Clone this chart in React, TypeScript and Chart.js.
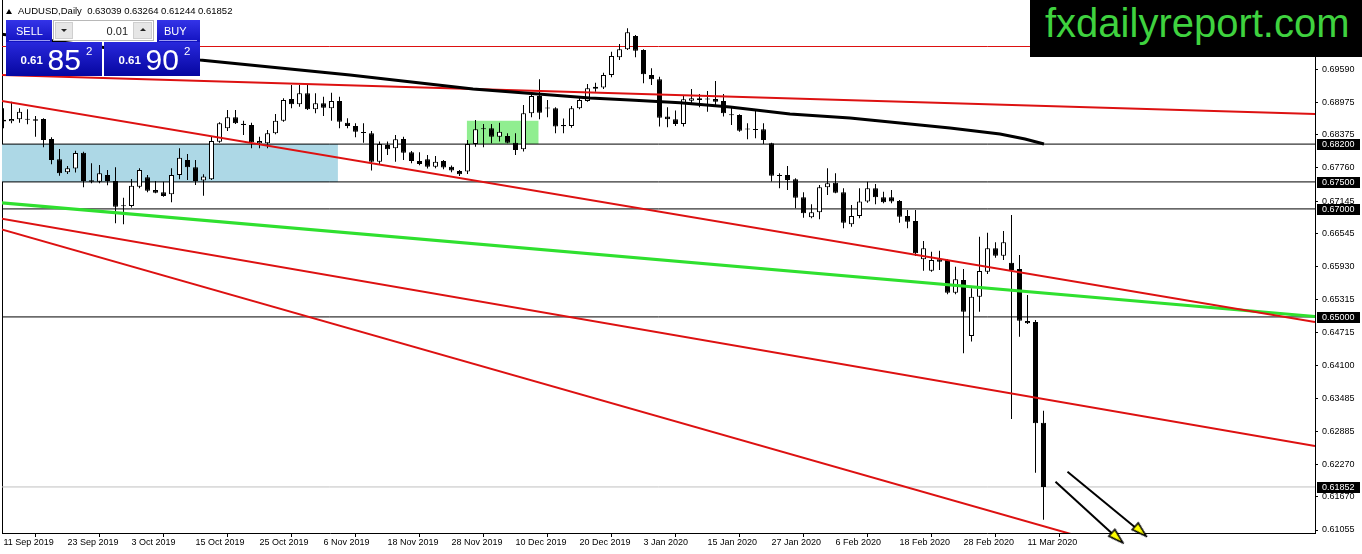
import React, { useEffect, useRef } from 'react';
import { Chart, registerables } from 'chart.js';

Chart.register(...registerables);

// ---------- data ----------
// one candle per trading day, starting 11 Sep 2019: [open, high, low, close]
const candles: [number, number, number, number][] = [
  [0.6865, 0.68863, 0.68492, 0.6862],
  [0.68622, 0.68986, 0.68585, 0.68665],
  [0.68659, 0.68863, 0.68597, 0.68801],
  [0.6866, 0.68844, 0.68566, 0.6865],
  [0.68659, 0.68721, 0.68338, 0.68634],
  [0.68665, 0.6868, 0.68141, 0.68276],
  [0.68295, 0.68326, 0.67826, 0.67906],
  [0.67919, 0.6811, 0.67616, 0.67659],
  [0.67678, 0.67795, 0.67647, 0.67752],
  [0.67746, 0.68079, 0.67672, 0.68036],
  [0.68042, 0.6806, 0.674, 0.67517],
  [0.6753, 0.67844, 0.67474, 0.67505],
  [0.67505, 0.67813, 0.67474, 0.67659],
  [0.67628, 0.67721, 0.67437, 0.67517],
  [0.67517, 0.6777, 0.66734, 0.67042],
  [0.6705, 0.67209, 0.66715, 0.67065],
  [0.67055, 0.67554, 0.67024, 0.67431],
  [0.67412, 0.67752, 0.67382, 0.67721],
  [0.67585, 0.67628, 0.67307, 0.67338],
  [0.67351, 0.67517, 0.67289, 0.67301],
  [0.67307, 0.67505, 0.67227, 0.67239],
  [0.6727, 0.67752, 0.67122, 0.67628],
  [0.67628, 0.68122, 0.67548, 0.67949],
  [0.67906, 0.68017, 0.67536, 0.6777],
  [0.6777, 0.67906, 0.67443, 0.67517],
  [0.67524, 0.67641, 0.67246, 0.67598],
  [0.67548, 0.68338, 0.67536, 0.68258],
  [0.68245, 0.68603, 0.68227, 0.68585],
  [0.68492, 0.68832, 0.68443, 0.68696],
  [0.68696, 0.68832, 0.68572, 0.68585],
  [0.68579, 0.68634, 0.68369, 0.68554],
  [0.68554, 0.68597, 0.68122, 0.68233],
  [0.68214, 0.68338, 0.68122, 0.68258],
  [0.68214, 0.68462, 0.68122, 0.684],
  [0.684, 0.68758, 0.68381, 0.68634],
  [0.68634, 0.69048, 0.68616, 0.69017],
  [0.69035, 0.69294, 0.68863, 0.68937],
  [0.68937, 0.69294, 0.68893, 0.6914],
  [0.6914, 0.69294, 0.68832, 0.68844],
  [0.68844, 0.6914, 0.6877, 0.68955],
  [0.68955, 0.69079, 0.68721, 0.68875],
  [0.68863, 0.69152, 0.68634, 0.68998],
  [0.68998, 0.69079, 0.68492, 0.68616],
  [0.68597, 0.68677, 0.68492, 0.68536],
  [0.68536, 0.68585, 0.68326, 0.68431],
  [0.6842, 0.68585, 0.68227, 0.68405],
  [0.684, 0.68443, 0.67709, 0.67875],
  [0.67875, 0.68246, 0.67832, 0.68203],
  [0.68184, 0.68246, 0.67999, 0.68104],
  [0.68122, 0.68369, 0.67875, 0.68289],
  [0.68295, 0.68338, 0.67906, 0.68042],
  [0.68048, 0.68073, 0.67845, 0.67888],
  [0.67888, 0.68048, 0.67808, 0.67832],
  [0.67919, 0.67999, 0.67746, 0.67783],
  [0.67783, 0.67981, 0.67752, 0.67875],
  [0.67888, 0.67906, 0.67734, 0.67765],
  [0.67783, 0.67802, 0.67678, 0.67709],
  [0.67703, 0.67721, 0.6761, 0.67641],
  [0.67691, 0.68277, 0.67647, 0.68203],
  [0.68203, 0.68647, 0.68153, 0.68474],
  [0.68493, 0.68573, 0.68141, 0.68474],
  [0.68493, 0.68573, 0.68215, 0.68338],
  [0.68338, 0.68597, 0.68246, 0.68431],
  [0.68351, 0.684, 0.68215, 0.68227],
  [0.68227, 0.684, 0.67999, 0.68092],
  [0.68104, 0.68925, 0.68061, 0.6877],
  [0.6877, 0.69122, 0.68696, 0.69091],
  [0.69091, 0.694, 0.68659, 0.68782],
  [0.6887, 0.69017, 0.68696, 0.6886],
  [0.68863, 0.68881, 0.684, 0.68524],
  [0.68555, 0.68672, 0.684, 0.6853],
  [0.68536, 0.68906, 0.68505, 0.68863],
  [0.68863, 0.69079, 0.68844, 0.69017],
  [0.68999, 0.69313, 0.68986, 0.69233],
  [0.69264, 0.69338, 0.69171, 0.69227],
  [0.69246, 0.69523, 0.69221, 0.6948],
  [0.6948, 0.69912, 0.69437, 0.69832],
  [0.69807, 0.70054, 0.69758, 0.69955],
  [0.69955, 0.70344, 0.69943, 0.7027],
  [0.70202, 0.7022, 0.69807, 0.6993],
  [0.69943, 0.69955, 0.69326, 0.69492],
  [0.6948, 0.69603, 0.69295, 0.694],
  [0.694, 0.69449, 0.68524, 0.6869],
  [0.68709, 0.68881, 0.68511, 0.68659],
  [0.68659, 0.6882, 0.68536, 0.68573],
  [0.68573, 0.6911, 0.68524, 0.6903],
  [0.69005, 0.69221, 0.68956, 0.69048],
  [0.69048, 0.69128, 0.68881, 0.69017],
  [0.69035, 0.69184, 0.68801, 0.69025],
  [0.69036, 0.6937, 0.68925, 0.68986],
  [0.68999, 0.69128, 0.68709, 0.6877],
  [0.68745, 0.68894, 0.68555, 0.68735],
  [0.68739, 0.68752, 0.68431, 0.68449],
  [0.6848, 0.68585, 0.68289, 0.6847],
  [0.6848, 0.6882, 0.68308, 0.68462],
  [0.68474, 0.68585, 0.68203, 0.68277],
  [0.68215, 0.68227, 0.67506, 0.67616],
  [0.67625, 0.6766, 0.67382, 0.6761],
  [0.67628, 0.67795, 0.67351, 0.67536],
  [0.67548, 0.67567, 0.67011, 0.67209],
  [0.67215, 0.67307, 0.66838, 0.66919],
  [0.66845, 0.67085, 0.66826, 0.66937],
  [0.66937, 0.67443, 0.66808, 0.674],
  [0.674, 0.67752, 0.67258, 0.67474],
  [0.67486, 0.67659, 0.67289, 0.67301],
  [0.67307, 0.67381, 0.66641, 0.66746],
  [0.66715, 0.67073, 0.66672, 0.66869],
  [0.66869, 0.67381, 0.66826, 0.67135],
  [0.67135, 0.67505, 0.67116, 0.67381],
  [0.67381, 0.67462, 0.67085, 0.67215],
  [0.67215, 0.6732, 0.67104, 0.67122],
  [0.67215, 0.67351, 0.67104, 0.67135],
  [0.67147, 0.67166, 0.66746, 0.66857],
  [0.66869, 0.6698, 0.66641, 0.66764],
  [0.66777, 0.6698, 0.66129, 0.66178],
  [0.6607, 0.66406, 0.65857, 0.6627],
  [0.65857, 0.66209, 0.65838, 0.66055],
  [0.66067, 0.66227, 0.65869, 0.66024],
  [0.66055, 0.66067, 0.65419, 0.6545],
  [0.6545, 0.65931, 0.65419, 0.65697],
  [0.65684, 0.65888, 0.64327, 0.65098],
  [0.64648, 0.6553, 0.64543, 0.65376],
  [0.65376, 0.66486, 0.65098, 0.6585],
  [0.65838, 0.6656, 0.65795, 0.6627],
  [0.6627, 0.66381, 0.66098, 0.66135],
  [0.66135, 0.66591, 0.66054, 0.66381],
  [0.66005, 0.66887, 0.63111, 0.6587],
  [0.65888, 0.66147, 0.64635, 0.64931],
  [0.64925, 0.65407, 0.6487, 0.64882],
  [0.64906, 0.64943, 0.62117, 0.63031],
  [0.63039, 0.63264, 0.61244, 0.61852],
];

// x-axis labels, one every 8 bars
const xTickLabels = [
  '11 Sep 2019', '23 Sep 2019', '3 Oct 2019', '15 Oct 2019', '25 Oct 2019', '6 Nov 2019',
  '18 Nov 2019', '28 Nov 2019', '10 Dec 2019', '20 Dec 2019', '3 Jan 2020', '15 Jan 2020',
  '27 Jan 2020', '6 Feb 2020', '18 Feb 2020', '28 Feb 2020', '11 Mar 2020',
];
const barsPerLabel = 8;

// price axis ticks
const priceTicks = [
  0.6959, 0.68975, 0.68375, 0.6776, 0.67145, 0.66545, 0.6593, 0.65315,
  0.64715, 0.641, 0.63485, 0.62885, 0.6227, 0.6167, 0.61055,
];

// horizontal support / resistance levels
const levelLines = [0.682, 0.675, 0.67, 0.65];
const bidPrice = 0.61852;
const topLevel = 0.70007;

// trend lines: [barIndex, price] endpoints
const redTrendUpper: [number, number][] = [[-0.44, 0.6948], [163.94, 0.68757]];
const redTrendMid: [number, number][] = [[-0.44, 0.69004], [163.94, 0.64906]];
const greenTrend: [number, number][] = [[-0.44, 0.67115], [163.94, 0.65008]];
const redTrendLow: [number, number][] = [[-0.44, 0.66826], [163.94, 0.6261]];
const redTrendBottom: [number, number][] = [[-0.44, 0.66628], [163.94, 0.59694]];

// black moving average
const movingAverage: [number, number][] = [
  [-0.44, 0.70238], [24.56, 0.69757], [43.31, 0.69479], [58.69, 0.6922], [73.31, 0.69054],
  [78.31, 0.69017], [84.56, 0.68966], [90.81, 0.68887], [98.31, 0.68757], [105.81, 0.68683],
  [112.06, 0.6859], [118.31, 0.68498], [124.56, 0.68387], [127.69, 0.68294], [130.06, 0.68202],
];

// zones: [fromIndex, toIndex, lowPrice, highPrice]
const blueZone: [number, number, number, number] = [-0.44, 41.8, 0.675, 0.682];
const greenZone: [number, number, number, number] = [57.9, 66.9, 0.682, 0.68633];

// arrows: start, end, head centre
const arrows: { from: [number, number]; to: [number, number]; head: [number, number] }[] = [
  { from: [131.5, 0.61949], to: [139.6, 0.6085], head: [139.24, 0.60909] },
  { from: [133.0, 0.62134], to: [142.5, 0.60975], head: [142.16, 0.61031] },
];

// ---------- chart ----------
const X_MIN = -0.1875;
const X_MAX = 163.9375;
const Y_MIN = 0.609995;
const Y_MAX = 0.708681;
const FONT = '"Liberation Sans", Arial, sans-serif';
const RED = '#dd1111';

const pts = (arr: [number, number][]) => arr.map(([x, y]) => ({ x, y }));

function makeArrowHead(): HTMLCanvasElement {
  const c = document.createElement('canvas');
  c.width = 11;
  c.height = 17;
  const g = c.getContext('2d')!;
  g.beginPath();
  g.moveTo(5.5, 1);
  g.lineTo(10, 16);
  g.lineTo(1, 16);
  g.closePath();
  g.fillStyle = '#ffff00';
  g.fill();
  g.lineWidth = 1.6;
  g.strokeStyle = '#000';
  g.stroke();
  return c;
}

function lineDs(data: { x: number; y: number }[], color: string, width: number, order: number, extra: any = {}) {
  return {
    type: 'line' as const,
    data,
    borderColor: color,
    borderWidth: width,
    pointRadius: 0,
    pointHitRadius: 0,
    fill: false,
    tension: 0,
    order,
    xAxisID: 'x',
    yAxisID: 'y',
    ...extra,
  };
}

function zoneDs(z: [number, number, number, number], color: string) {
  return lineDs(
    [{ x: z[0], y: z[3] }, { x: z[1], y: z[3] }],
    'rgba(0,0,0,0)',
    0,
    20,
    { fill: { value: z[2] }, backgroundColor: color }
  );
}

const priceTagPlugin = {
  id: 'priceTags',
  afterDraw(chart: any) {
    const ys = chart.scales.y;
    const ctx = chart.ctx;
    const left = chart.chartArea.right + 2;
    ctx.save();
    ctx.font = '9px ' + FONT;
    ctx.textBaseline = 'middle';
    ctx.textAlign = 'left';
    for (const v of [...levelLines, bidPrice]) {
      const py = Math.round(ys.getPixelForValue(v));
      ctx.fillStyle = '#000';
      ctx.fillRect(left, py - 5, 43, 11);
      ctx.fillStyle = '#fff';
      ctx.fillText(v.toFixed(5), left + 5, py + 0.5);
    }
    ctx.restore();
  },
};

function buildConfig(): any {
  const wickData = candles.map((c, i) => ({ x: i, y: [c[2], c[1]] }));
  const bodyData = candles.map((c, i) => ({ x: i, y: [c[0], c[3]] }));
  const head = makeArrowHead();

  const datasets: any[] = [
    zoneDs(blueZone, '#add8e6'),
    zoneDs(greenZone, '#90ee90'),
    lineDs([{ x: X_MIN - 1, y: topLevel }, { x: X_MAX + 1, y: topLevel }], RED, 1, 15),
    ...levelLines.map((v) => lineDs([{ x: X_MIN - 1, y: v }, { x: X_MAX + 1, y: v }], '#000', 1, 15)),
    lineDs([{ x: X_MIN - 1, y: bidPrice }, { x: X_MAX + 1, y: bidPrice }], '#c0c0c0', 1, 15),
    {
      type: 'bar',
      data: wickData,
      backgroundColor: '#000',
      borderWidth: 0,
      barThickness: 1,
      grouped: false,
      inflateAmount: 0,
      order: 10,
      xAxisID: 'x',
      yAxisID: 'y',
    },
    {
      type: 'bar',
      data: bodyData,
      backgroundColor: (ctx: any) => {
        const c = candles[ctx.dataIndex];
        return c && c[3] >= c[0] ? '#fff' : '#000';
      },
      borderColor: '#000',
      borderWidth: 1,
      borderSkipped: false,
      barThickness: 5,
      minBarLength: 1,
      grouped: false,
      inflateAmount: 0,
      order: 9,
      xAxisID: 'x',
      yAxisID: 'y',
    },
    lineDs(pts(redTrendUpper), RED, 2, 5),
    lineDs(pts(redTrendMid), RED, 2, 5),
    lineDs(pts(redTrendLow), RED, 2, 5),
    lineDs(pts(redTrendBottom), RED, 2, 5),
    lineDs(pts(greenTrend), '#2fe02f', 3, 5),
    lineDs(pts(movingAverage), '#000', 3, 4),
    ...arrows.map((a) => lineDs(pts([a.from, a.to]), '#000', 2, 2, { clip: false })),
    ...arrows.map((a) =>
      lineDs(pts([a.head]), '#000', 0, 1, {
        clip: false,
        showLine: false,
        pointRadius: 8,
        pointStyle: head,
        pointRotation: 132,
      })
    ),
  ];

  return {
    type: 'bar',
    data: { datasets },
    plugins: [priceTagPlugin],
    options: {
      responsive: false,
      maintainAspectRatio: false,
      devicePixelRatio: 1,
      animation: false,
      events: [],
      layout: { padding: 0, autoPadding: false },
      plugins: {
        legend: { display: false },
        tooltip: { enabled: false },
        title: { display: false },
      },
      scales: {
        x: {
          type: 'linear',
          position: 'bottom',
          min: X_MIN,
          max: X_MAX,
          offset: false,
          bounds: 'data',
          afterBuildTicks: (axis: any) => {
            axis.ticks = xTickLabels.map((_, k) => ({ value: k * barsPerLabel }));
          },
          afterFit: (axis: any) => {
            axis.height = 21;
            axis.paddingLeft = 0;
            axis.paddingRight = 0;
          },
          ticks: {
            autoSkip: false,
            maxRotation: 0,
            minRotation: 0,
            align: 'start',
            padding: 0,
            color: '#000',
            font: { family: FONT, size: 9 },
            callback: (v: number) => xTickLabels[Math.round(v / barsPerLabel)] ?? '',
          },
          grid: { display: true, drawOnChartArea: false, drawTicks: true, tickLength: 4, color: '#000', tickColor: '#000' },
          border: { display: true, color: '#000', width: 1 },
        },
        y: {
          type: 'linear',
          position: 'right',
          min: Y_MIN,
          max: Y_MAX,
          bounds: 'data',
          beginAtZero: false,
          afterBuildTicks: (axis: any) => {
            axis.ticks = priceTicks.map((v) => ({ value: v }));
          },
          afterFit: (axis: any) => {
            axis.width = 47;
            axis.paddingTop = 0;
            axis.paddingBottom = 0;
          },
          ticks: {
            padding: 4,
            color: '#000',
            font: { family: FONT, size: 9 },
            callback: (v: number) => Number(v).toFixed(5),
          },
          grid: { display: true, drawOnChartArea: false, drawTicks: true, tickLength: 3, color: '#000', tickColor: '#000' },
          border: { display: true, color: '#000', width: 1 },
        },
        yL: {
          type: 'linear',
          position: 'left',
          display: true,
          afterFit: (axis: any) => {
            axis.width = 2;
            axis.paddingTop = 0;
            axis.paddingBottom = 0;
          },
          ticks: { display: false },
          grid: { display: false, drawTicks: false, tickLength: 0 },
          border: { display: true, color: '#000', width: 1 },
        },
      },
    },
  };
}

// ---------- overlay helpers ----------
const abs = (s: React.CSSProperties): React.CSSProperties => ({ position: 'absolute', ...s });
const txt = (left: number, baseline: number, size: number, extra: React.CSSProperties = {}): React.CSSProperties =>
  abs({ left, top: baseline - 0.8465 * size, fontSize: size, lineHeight: 1, whiteSpace: 'nowrap', ...extra });

const btnBg = 'linear-gradient(#3434e8, #1212c0)';
const boxBg = 'linear-gradient(#2828dc, #0606a0)';

function PriceBox({ left, big, small, sup }: { left: number; big: string; small: string; sup: string }) {
  return (
    <>
      <div style={abs({ left, top: 42, width: 96, height: 34, background: boxBg })} />
      <div style={txt(left + 14.5, 65, 11.5, { color: '#fff', fontWeight: 'bold' })}>{small}</div>
      <div style={txt(left + 41.5, 70.3, 30, { color: '#fff' })}>{big}</div>
      <div style={txt(left + 80, 56, 11.5, { color: '#fff' })}>{sup}</div>
    </>
  );
}

export default function App() {
  const ref = useRef<HTMLCanvasElement>(null);
  useEffect(() => {
    if (!ref.current) return;
    const chart = new Chart(ref.current, buildConfig());
    return () => chart.destroy();
  }, []);

  return (
    <div
      style={abs({
        left: 0,
        top: 0,
        width: 1362,
        height: 554,
        overflow: 'hidden',
        background: '#fff',
        fontFamily: FONT,
      })}
    >
      <canvas ref={ref} width={1362} height={554} style={abs({ left: 0, top: 0, width: 1362, height: 554 })} />

      {/* header */}
      <div
        style={abs({
          left: 6,
          top: 8.5,
          width: 0,
          height: 0,
          borderLeft: '3px solid transparent',
          borderRight: '3px solid transparent',
          borderBottom: '5px solid #000',
        })}
      />
      <div style={txt(18, 14, 9.5, { color: '#000' })}>AUDUSD,Daily&nbsp; 0.63039 0.63264 0.61244 0.61852</div>

      {/* one-click trading panel */}
      <div style={abs({ left: 6, top: 20, width: 46, height: 22, background: btnBg })} />
      <div style={abs({ left: 9, top: 40, width: 41, height: 1, background: 'rgba(190,190,255,0.8)' })} />
      <div style={txt(16, 35.7, 11, { color: '#fff' })}>SELL</div>

      <div style={abs({ left: 53, top: 20, width: 101, height: 21, background: '#fff', boxSizing: 'border-box', border: '1px solid #b8b8b8' })} />
      <div style={abs({ left: 55, top: 22, width: 18, height: 17, background: '#e6e6e6', boxSizing: 'border-box', border: '1px solid #cfcfcf' })} />
      <div
        style={abs({
          left: 61,
          top: 28.5,
          width: 0,
          height: 0,
          borderLeft: '3px solid transparent',
          borderRight: '3px solid transparent',
          borderTop: '3px solid #222',
        })}
      />
      <div style={txt(106.6, 35, 11, { color: '#222' })}>0.01</div>
      <div style={abs({ left: 133, top: 22, width: 19, height: 17, background: '#e6e6e6', boxSizing: 'border-box', border: '1px solid #cfcfcf' })} />
      <div
        style={abs({
          left: 139.5,
          top: 28,
          width: 0,
          height: 0,
          borderLeft: '3px solid transparent',
          borderRight: '3px solid transparent',
          borderBottom: '3px solid #222',
        })}
      />

      <div style={abs({ left: 157, top: 20, width: 43, height: 22, background: btnBg })} />
      <div style={abs({ left: 159, top: 40, width: 38, height: 1, background: 'rgba(190,190,255,0.8)' })} />
      <div style={txt(164, 35.7, 11, { color: '#fff' })}>BUY</div>

      <PriceBox left={6} small="0.61" big="85" sup="2" />
      <PriceBox left={104} small="0.61" big="90" sup="2" />

      {/* logo */}
      <div style={abs({ left: 1030, top: 0, width: 332, height: 57, background: '#000' })} />
      <div style={txt(1045, 36.7, 40, { color: '#3fd23f' })}>fxdailyreport.com</div>
    </div>
  );
}
